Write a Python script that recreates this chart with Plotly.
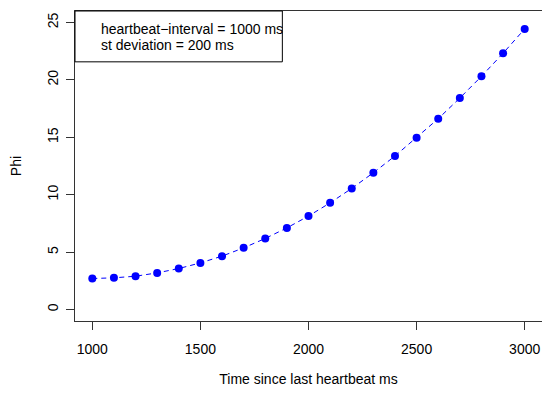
import plotly.graph_objects as go

time_ms = [1000, 1100, 1200, 1300, 1400, 1500, 1600, 1700, 1800, 1900, 2000,
           2100, 2200, 2300, 2400, 2500, 2600, 2700, 2800, 2900, 3000]
phi = [2.70, 2.76, 2.90, 3.19, 3.57, 4.06, 4.65, 5.37, 6.19, 7.11, 8.14,
       9.29, 10.55, 11.91, 13.37, 14.96, 16.62, 18.42, 20.31, 22.32, 24.44]
x_ticks = [1000, 1500, 2000, 2500, 3000]
y_ticks = [0, 5, 10, 15, 20, 25]
legend_lines = ["heartbeat\u2212interval = 1000 ms", "st deviation = 200 ms"]

FONT = "Liberation Sans, Arial, Helvetica, sans-serif"
FS = 14

fig = go.Figure()
fig.add_trace(go.Scatter(
    x=time_ms, y=phi, mode="lines+markers",
    line=dict(color="blue", width=1, dash="5px,4px"),
    marker=dict(color="blue", size=8, symbol="circle"),
    showlegend=False,
))

axis_common = dict(
    showgrid=False, zeroline=False, showline=True, linecolor="#333333", linewidth=1,
    mirror=True, ticks="outside", ticklen=8, tickcolor="#333333", tickwidth=1,
    tickfont=dict(family=FONT, size=FS, color="black"), automargin=False,
)

# the page body adds an 8px offset, so the figure is sized 542x385
fig.update_layout(
    width=542, height=385,
    margin=dict(l=67, r=8, t=3, b=72),
    paper_bgcolor="white", plot_bgcolor="white",
    font=dict(family=FONT, size=FS, color="black"),
    xaxis=dict(range=[920, 3080], tickvals=x_ticks, ticklabelstandoff=7,
               title=dict(text="Time since last heartbeat ms", standoff=18,
                          font=dict(family=FONT, size=FS)),
               **axis_common),
    yaxis=dict(range=[-1, 26], tickvals=y_ticks, tickangle=-90, ticklabelstandoff=2,
               title=dict(text="Phi", standoff=21, font=dict(family=FONT, size=FS)),
               **axis_common),
)

fig.add_shape(type="rect", xref="paper", yref="paper",
              x0=0, x1=0.444, y0=0.836, y1=1,
              line=dict(color="black", width=1), fillcolor="white", layer="above")
for i, txt in enumerate(legend_lines):
    fig.add_annotation(text=txt, xref="paper", yref="paper",
                       x=0.051, y=[0.942, 0.890][i], xanchor="left", yanchor="middle",
                       showarrow=False, font=dict(family=FONT, size=FS, color="black"))

fig.write_html("out.html")
